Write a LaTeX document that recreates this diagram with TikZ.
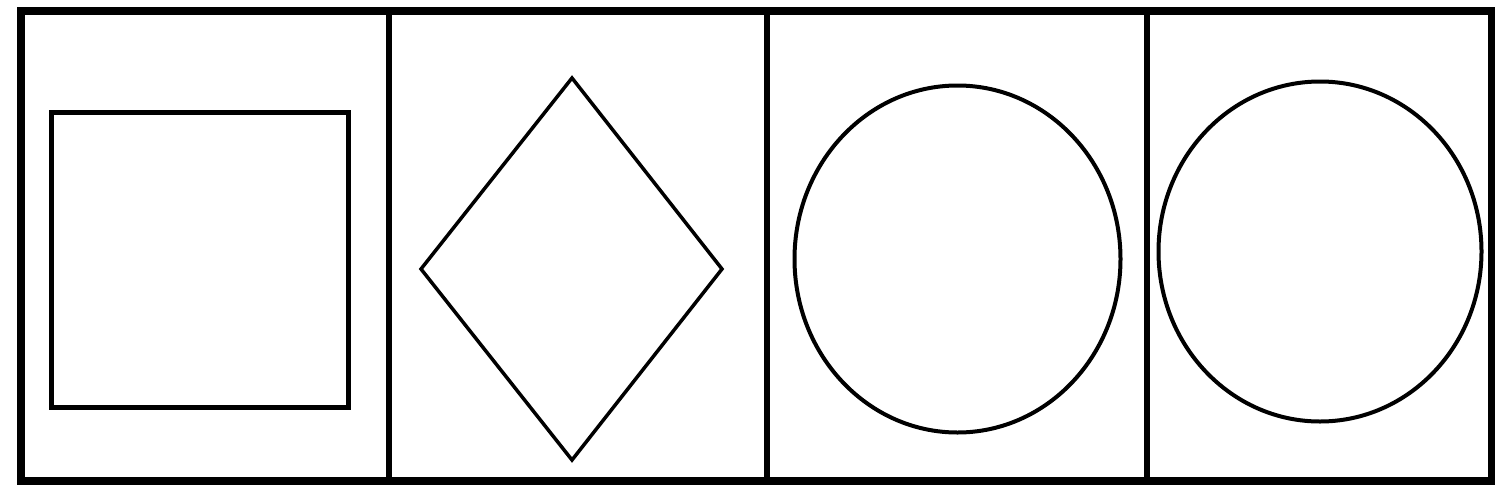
\documentclass[tikz,border=0pt]{standalone}
\begin{document}
\begin{tikzpicture}[x=1pt,y=-1pt,
  frame/.style={draw=black,line width=7.5pt,line join=miter},
  divider/.style={draw=black,line width=6pt},
  figline/.style={draw=black,line width=4pt,line join=miter}]
\useasboundingbox[fill=white] (0,0) rectangle (1509,501);
% outer frame
\draw[frame] (21,11) rectangle (1491.5,481);
% dividers
\draw[divider] (389,11) -- (389,481);
\draw[divider] (767,11) -- (767,481);
\draw[divider] (1147,11) -- (1147,481);
% square
\draw[figline,line width=5pt] (51.5,112.5) rectangle (348.5,407.5);
% diamond
\draw[figline,line width=3.5pt] (572,78) -- (722,269) -- (572,460) -- (421,269) -- cycle;
% circles
\draw[figline] (957.5,259) ellipse [x radius=163, y radius=173.5];
\draw[figline] (1320,251.5) ellipse [x radius=161.5, y radius=170];
\end{tikzpicture}
\end{document}
